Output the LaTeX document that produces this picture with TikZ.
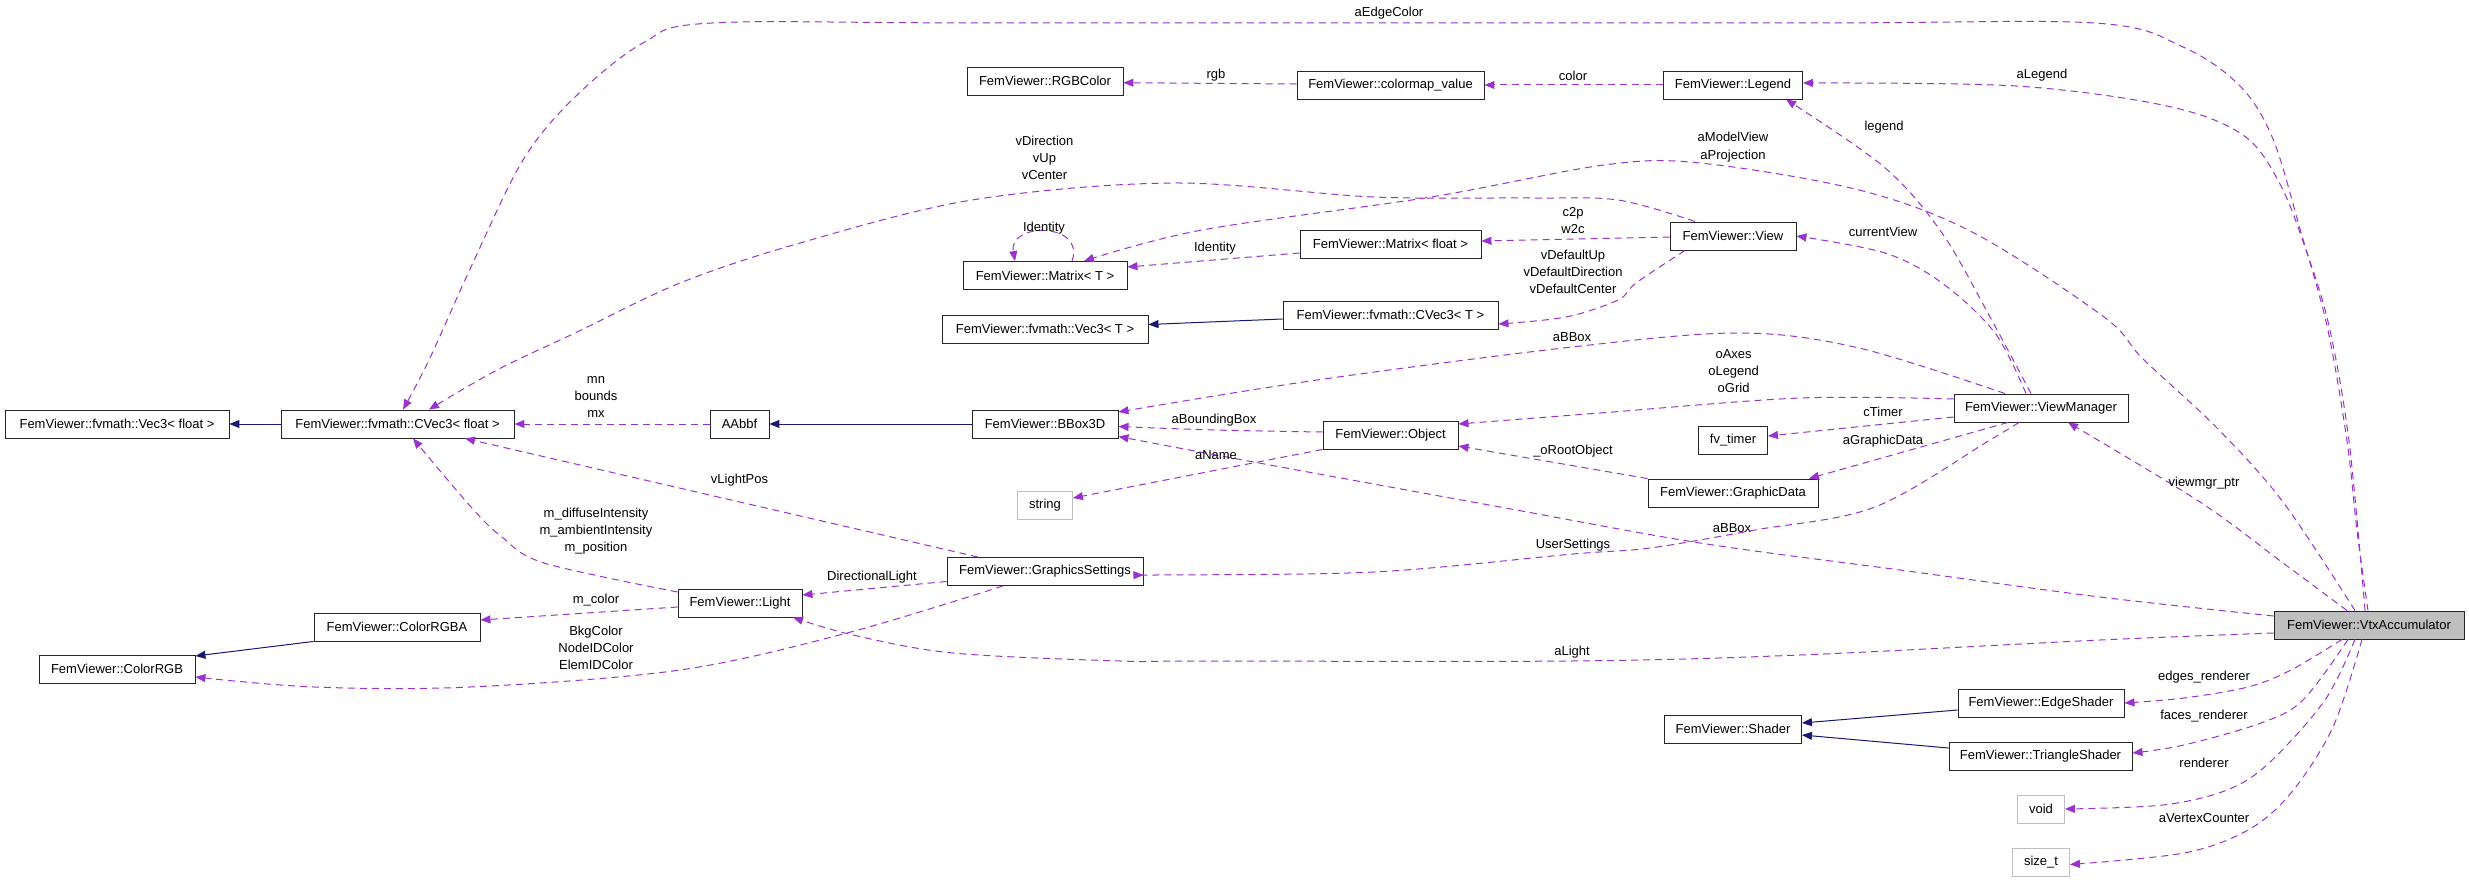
\documentclass[tikz,border=0pt]{standalone}
\usepackage{fontspec}
\setmainfont{Liberation Sans}
\usetikzlibrary{arrows.meta}
\definecolor{usec}{RGB}{154,50,205}
\definecolor{inhc}{RGB}{25,25,112}
\definecolor{graybd}{RGB}{191,191,191}
\tikzset{
  cls/.style={draw=black!85, line width=0.9pt, minimum height=28pt, inner sep=0pt, fill=white,
    font=\fontsize{13}{15}\selectfont},
  ext/.style={cls, draw=graybd},
  cur/.style={cls, fill=graybd},
  usedge/.style={draw=usec, line width=1pt, dash pattern=on 7pt off 5pt,
    -{Triangle[length=10pt,width=8pt]}},
  inhedge/.style={draw=inhc, line width=1pt, -{Triangle[length=10pt,width=8pt]}},
  lbl/.style={inner sep=0pt, align=center, font=\fontsize{13}{17.3}\selectfont},
  sm/.style={smooth, tension=0.55}
}
\begin{document}
\begin{tikzpicture}[x=1pt,y=-1pt]
\useasboundingbox (0,0) rectangle (2469,883);
% nodes
\node[cls, minimum width=224pt] (vec3f) at (117,424) {FemViewer::fvmath::Vec3< float >};
\node[cls, minimum width=233pt] (cvec3f) at (397.5,424) {FemViewer::fvmath::CVec3< float >};
\node[cls, minimum width=59pt] (aabbf) at (739.5,424) {AAbbf};
\node[cls, minimum width=146pt] (bbox) at (1045,424) {FemViewer::BBox3D};
\node[cls, minimum width=135pt] (object) at (1390.5,435) {FemViewer::Object};
\node[cls, minimum width=156pt] (rgbcolor) at (1045,81) {FemViewer::RGBColor};
\node[cls, minimum width=187pt] (colormap) at (1390.5,85) {FemViewer::colormap\_value};
\node[cls, minimum width=139pt] (legend) at (1733,85) {FemViewer::Legend};
\node[cls, minimum width=164pt] (matT) at (1045,275.5) {FemViewer::Matrix< T >};
\node[cls, minimum width=181pt] (matF) at (1390.5,244) {FemViewer::Matrix< float >};
\node[cls, minimum width=206pt] (vec3T) at (1045,329) {FemViewer::fvmath::Vec3< T >};
\node[cls, minimum width=215pt] (cvec3T) at (1390.5,315) {FemViewer::fvmath::CVec3< T >};
\node[cls, minimum width=126pt] (view) at (1733,236) {FemViewer::View};
\node[cls, minimum width=174pt] (viewmgr) at (2041,408) {FemViewer::ViewManager};
\node[cls, minimum width=69pt] (fvtimer) at (1733,440) {fv\_timer};
\node[cls, minimum width=170pt] (graphicdata) at (1733,493) {FemViewer::GraphicData};
\node[ext, minimum width=55pt] (string) at (1045,505) {string};
\node[cls, minimum width=196pt] (gsettings) at (1045,571.5) {FemViewer::GraphicsSettings};
\node[cls, minimum width=124pt] (light) at (740,603) {FemViewer::Light};
\node[cls, minimum width=166pt] (colorrgba) at (397,627) {FemViewer::ColorRGBA};
\node[cls, minimum width=156pt] (colorrgb) at (117,669) {FemViewer::ColorRGB};
\node[cur, minimum width=190pt] (vtx) at (2369,625) {FemViewer::VtxAccumulator};
\node[cls, minimum width=166pt] (edgeshader) at (2041,703) {FemViewer::EdgeShader};
\node[cls, minimum width=183pt] (trishader) at (2040.5,756) {FemViewer::TriangleShader};
\node[cls, minimum width=137pt] (shader) at (1733,729) {FemViewer::Shader};
\node[ext, minimum width=47pt] (void) at (2041,809) {void};
\node[ext, minimum width=57pt] (sizet) at (2041,862.5) {size\_t};

% inheritance edges
\draw[inhedge] (cvec3f.west) -- (vec3f.east);
\draw[inhedge] (bbox.west) -- (aabbf.east);
\draw[inhedge] ([yshift=-4pt]cvec3T.west) -- ([yshift=4.5pt]vec3T.east);
\draw[inhedge] (colorrgba.south west) -- ([yshift=13pt]colorrgb.east);
\draw[inhedge] ([yshift=-7pt]edgeshader.west) -- ([yshift=6pt]shader.east);
\draw[inhedge] ([yshift=8pt]trishader.west) -- ([yshift=-6pt]shader.east);

% usage edges
\draw[usedge] plot[sm] coordinates {([xshift=-1pt]vtx.north) (2357,531) (2347,441) (2327,326) (2300,229) (2273,139) (2240,86) (2183,47) (2094,23) (1800,23) (1000,23) (712,23) (643,43) (575,97) (523,160) (471,267) (429,360) ([xshift=5.5pt]cvec3f.north)};
\node[lbl] (l-edgecolor) at (1389,13) {aEdgeColor};

\draw[usedge] plot[sm] coordinates {([xshift=-4pt]vtx.north) (2349,441) (2329,326) (2307,253) (2280,184) (2243,135) (2167,106) (2016,86) ([yshift=2pt]legend.east)};
\node[lbl] (l-alegend) at (2042,75) {aLegend};

\draw[usedge] plot[sm] coordinates {([xshift=-14pt]vtx.north) (2283,502) (2217,428) (2143,359) (2104,317) (1974,233) (1859,190) (1700,163) (1604,165) (1431,197) (1202,230) ([xshift=39pt]matT.north)};
\node[lbl] (l-amodel) at (1733,147) {aModelView\\aProjection};

\draw[usedge] plot[sm] coordinates {([xshift=-22pt]vtx.north) (2283,563) (2200,502) ([xshift=27pt]viewmgr.south)};
\node[lbl] (l-vmgr) at (2204,483) {viewmgr\_ptr};

\draw[usedge] plot[sm] coordinates {([yshift=9pt]vtx.west) (2100,597) (1900,570) (1700,543) (1500,507) (1259,463) ([yshift=-12.5pt]bbox.east)};
\node[lbl] (l-abbox2) at (1732,528) {aBBox};

\draw[usedge] plot[sm] coordinates {([yshift=-8pt]vtx.west) (2100,640) (1800,655) (1572,661) (1200,661) (1120,661) (953,653) (853,635) ([xshift=53pt]light.south)};
\node[lbl] (l-alight) at (1572,652) {aLight};

\draw[usedge] plot[sm] coordinates {([xshift=-27pt]vtx.south) (2291,670) (2248,687) (2184,698) (edgeshader.east)};
\node[lbl] (l-edges) at (2204,677) {edges\_renderer};

\draw[usedge] plot[sm] coordinates {([xshift=-21pt]vtx.south) (2303,700) (2261,723) (2184,745) ([yshift=3pt]trishader.east)};
\node[lbl] (l-faces) at (2204,716) {faces\_renderer};

\draw[usedge] plot[sm] coordinates {([xshift=-14pt]vtx.south) (2325,700) (2269,763) (2227,790) (2163,805) (void.east)};
\node[lbl] (l-renderer) at (2204,763) {renderer};

\draw[usedge] plot[sm] coordinates {([xshift=-7pt]vtx.south) (2333,727) (2291,793) (2248,830) (2184,853) ([yshift=-2pt]sizet.east)};
\node[lbl] (l-vcount) at (2204,818) {aVertexCounter};

\draw[usedge] (aabbf.west) -- (cvec3f.east);
\node[lbl] (l-mn) at (596,397) {mn\\bounds\\mx};

\draw[usedge] plot[sm] coordinates {([xshift=-38pt]view.north) (1618,200) (1531,198) (1374,197) (1173,183) (972,200) (800,243) (680,283) (575,333) (497,370) ([xshift=31.5pt]cvec3f.north)};
\node[lbl] (l-vdir) at (1044.5,158) {vDirection\\vUp\\vCenter};

\draw[usedge] plot[sm] coordinates {([yshift=11pt]light.west) (544,563) (502,537) (471,507) ([xshift=15.5pt]cvec3f.south)};
\node[lbl] (l-mdiff) at (596,531) {m\_diffuseIntensity\\m\_ambientIntensity\\m\_position};

\draw[usedge] ([xshift=-67pt]gsettings.north) -- ([xshift=67.5pt]cvec3f.south);
\node[lbl] (l-vlight) at (739.5,480) {vLightPos};

\draw[usedge] ([yshift=1pt]colormap.west) -- ([yshift=-1.7pt]rgbcolor.east);
\node[lbl] (l-rgb) at (1216,75) {rgb};

\draw[usedge] (legend.west) -- (colormap.east);
\node[lbl] (l-color) at (1573,76) {color};

\draw[usedge] plot[sm] coordinates {([xshift=-10pt]viewmgr.north) (1990,317) (1942,233) (1884,167) ([xshift=53pt]legend.south)};
\node[lbl] (l-legend) at (1884,127) {legend};

\draw[usedge] plot[sm] coordinates {([xshift=-15pt]viewmgr.north) (1995,333) (1942,283) (1885,253) (view.east)};
\node[lbl] (l-curview) at (1883,232) {currentView};

\draw[usedge] ([xshift=27pt]matT.north) .. controls (1086,222) and (1008,222) .. ([xshift=-30pt]matT.north);
\node[lbl] (l-ident1) at (1044,228) {Identity};

\draw[usedge] ([yshift=-9pt]matF.west) -- ([yshift=8.5pt]matT.east);
\node[lbl] (l-ident2) at (1215,248) {Identity};

\draw[usedge] ([yshift=-1pt]view.west) -- ([yshift=3pt]matF.east);
\node[lbl] (l-c2p) at (1573,220.5) {c2p\\w2c};

\draw[usedge] plot[sm] coordinates {([xshift=-48pt]view.south) (1636,283) (1618,300) (1566,317) ([yshift=-9pt]cvec3T.east)};
\node[lbl] (l-vdef) at (1573,272) {vDefaultUp\\vDefaultDirection\\vDefaultCenter};

\draw[usedge] plot[sm] coordinates {([xshift=-36pt]viewmgr.north) (1859,348) (1739,333) (1572,347) (1317,380) ([yshift=12pt]bbox.east)};
\node[lbl] (l-abbox1) at (1572,337) {aBBox};

\draw[usedge] plot[sm] coordinates {([yshift=3pt]object.west) (1214,430) ([yshift=-2.5pt]bbox.east)};
\node[lbl] (l-abound) at (1214,420) {aBoundingBox};

\draw[usedge] (object.south west) -- ([yshift=7pt]string.east);
\node[lbl] (l-aname) at (1216,455) {aName};

\draw[usedge] plot[sm] coordinates {([yshift=9pt]viewmgr.west) (1800,398) (1600,413) ([yshift=11pt]object.east)};
\node[lbl] (l-oaxes) at (1733.6,371) {oAxes\\oLegend\\oGrid};

\draw[usedge] ([yshift=-9pt]viewmgr.west) -- ([yshift=4pt]fvtimer.east);
\node[lbl] (l-ctimer) at (1883,412) {cTimer};

\draw[usedge] ([xshift=-33pt]viewmgr.south) -- ([xshift=76pt]graphicdata.north);
\node[lbl] (l-agd) at (1883,441) {aGraphicData};

\draw[usedge] (graphicdata.north west) -- ([yshift=-11pt]object.east);
\node[lbl] (l-oroot) at (1573,451) {\_oRootObject};

\draw[usedge] plot[sm] coordinates {([xshift=-22pt]viewmgr.south) (1990,440) (1875,507) (1755,530) (1650,548) (1573,554) (1374,572) (1156,575) ([yshift=-3.5pt]gsettings.east)};
\node[lbl] (l-user) at (1573,545) {UserSettings};

\draw[usedge] ([yshift=-10pt]gsettings.west) -- ([yshift=8pt]light.east);
\node[lbl] (l-dirlight) at (872,577) {DirectionalLight};

\draw[usedge] ([yshift=-4pt]light.west) -- ([yshift=7pt]colorrgba.east);
\node[lbl] (l-mcolor) at (596,600) {m\_color};

\draw[usedge] plot[sm] coordinates {([xshift=-42pt]gsettings.south) (847,633) (680,670) (470,687) (314,687) ([yshift=-8pt]colorrgb.east)};
\node[lbl] (l-bkg) at (596,648) {BkgColor\\NodeIDColor\\ElemIDColor};
\end{tikzpicture}
\end{document}
